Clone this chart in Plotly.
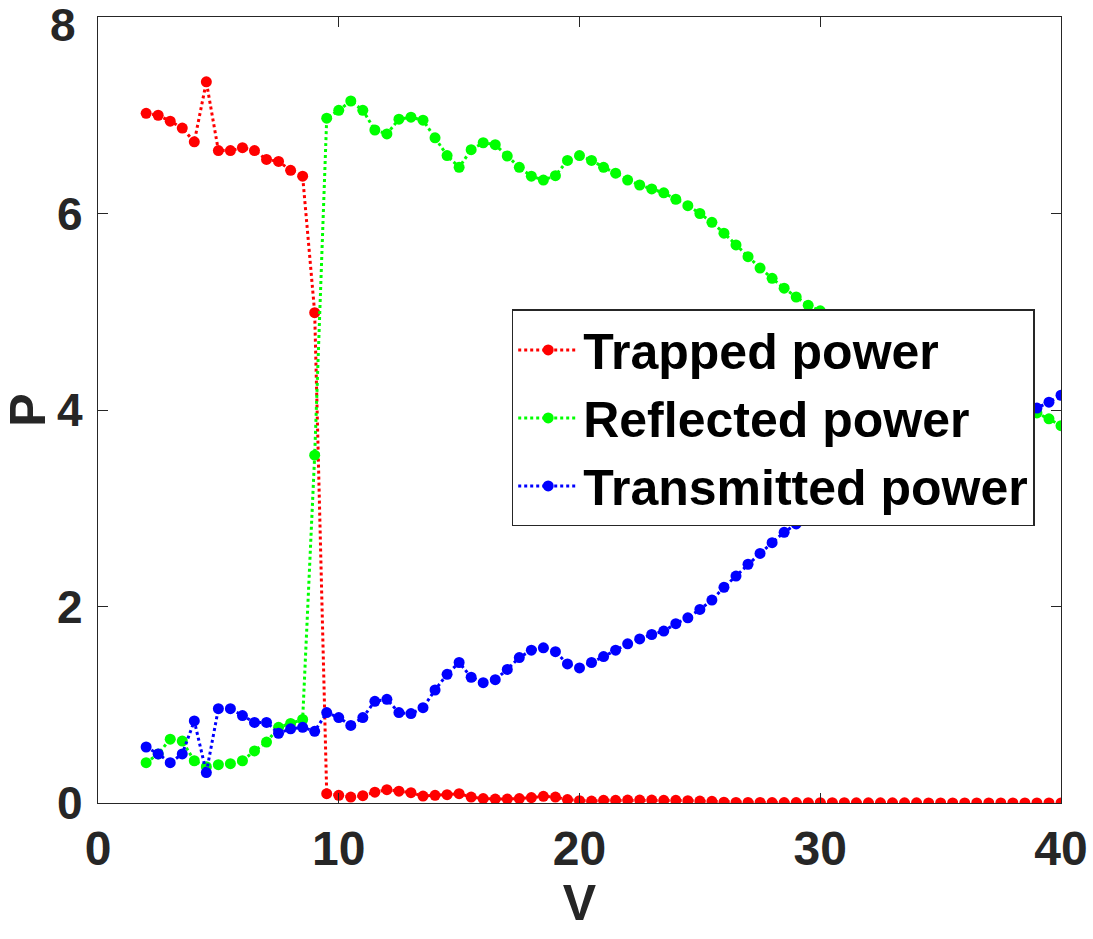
import numpy as np
import plotly.graph_objects as go

V = [round(2 + 0.5 * i, 1) for i in range(77)]

trapped = [
    7.02, 7.00, 6.94, 6.87, 6.73, 7.34, 6.64, 6.64, 6.67, 6.64,
    6.55, 6.53, 6.44, 6.38, 4.99, 0.095, 0.078, 0.06, 0.075, 0.11,
    0.136, 0.12, 0.105, 0.07, 0.078, 0.085, 0.095, 0.06, 0.045, 0.04,
    0.04, 0.045, 0.055, 0.068, 0.06, 0.035, 0.024, 0.02, 0.027, 0.027,
    0.03, 0.03, 0.03, 0.027, 0.027, 0.024, 0.02, 0.017, 0.008, 0.006,
    0.005, 0.005, 0.004, 0.004, 0.004, 0.003, 0.003, 0.003, 0.003, 0.002,
    0.002, 0.002, 0.002, 0.002, 0.002, 0.001, 0.001, 0.001, 0.001, 0.001,
    0.001, 0.001, 0.001, 0.001, 0.001, 0.001, 0.001,
]

reflected = [
    0.41, 0.50, 0.65, 0.63, 0.43, 0.37, 0.39, 0.40, 0.43, 0.53,
    0.62, 0.77, 0.81, 0.85, 3.54, 6.97, 7.05, 7.145, 7.05, 6.85,
    6.81, 6.96, 6.98, 6.95, 6.77, 6.59, 6.47, 6.65, 6.72, 6.70,
    6.585, 6.47, 6.38, 6.34, 6.385, 6.54, 6.59, 6.54, 6.47, 6.41,
    6.34, 6.29, 6.25, 6.21, 6.145, 6.08, 6.00, 5.91, 5.80, 5.68,
    5.56, 5.445, 5.34, 5.24, 5.15, 5.065, 5.01, 4.95, 4.89, 4.83,
    4.77, 4.71, 4.65, 4.59, 4.53, 4.47, 4.41, 4.36, 4.30, 4.25,
    4.19, 4.13, 4.08, 4.02, 3.97, 3.91, 3.84,
]

transmitted = [
    0.57, 0.50, 0.41, 0.50, 0.835, 0.31, 0.96, 0.96, 0.89, 0.82,
    0.82, 0.71, 0.755, 0.77, 0.73, 0.92, 0.87, 0.79, 0.87, 1.035,
    1.055, 0.92, 0.91, 0.97, 1.15, 1.31, 1.43, 1.28, 1.225, 1.255,
    1.36, 1.48, 1.555, 1.58, 1.54, 1.415, 1.375, 1.43, 1.49, 1.555,
    1.62, 1.67, 1.715, 1.75, 1.825, 1.885, 1.97, 2.065, 2.195, 2.31,
    2.43, 2.54, 2.65, 2.755, 2.84, 2.925, 2.99, 3.07, 3.14, 3.21,
    3.28, 3.34, 3.40, 3.46, 3.52, 3.57, 3.62, 3.67, 3.72, 3.77,
    3.82, 3.86, 3.90, 3.95, 4.02, 4.08, 4.15,
]

names = ["Trapped power", "Reflected power", "Transmitted power"]
colors = ["#FF0000", "#00FF00", "#0000FF"]
series = [trapped, reflected, transmitted]

y_tickvals = [0, 2, 4, 6, 8]
y_ticktext = ["0", "2", "4", "6", "8"]

FONT = "Liberation Sans, Arial, Helvetica, sans-serif"
AXC = "#262626"

fig = go.Figure()
for name, col, ys in zip(names, colors, series):
    fig.add_trace(go.Scatter(
        x=V, y=ys, name=name, mode="lines+markers",
        line=dict(color=col, width=3, dash="dot"),
        marker=dict(color=col, size=11, symbol="circle"),
    ))

# the top tick label sits slightly below its tick (kept inside the figure)
shown_text = y_ticktext[:-1] + [""]
fig.add_annotation(
    x=0, xref="paper", y=y_tickvals[-1], yref="y",
    text=y_ticktext[-1], showarrow=False,
    xanchor="right", yanchor="top", xshift=-20, yshift=20,
    font=dict(family=FONT, size=46, color=AXC, weight="bold"),
)

fig.update_layout(
    width=1093, height=939,
    margin=dict(l=98, r=32, t=17, b=136, autoexpand=False),
    paper_bgcolor="white", plot_bgcolor="white",
    showlegend=True,
    legend=dict(
        x=0.4296, y=0.628, xanchor="left", yanchor="top",
        bgcolor="white", bordercolor=AXC, borderwidth=1.5,
        font=dict(family=FONT, size=50, color="black", weight="bold"),
        itemwidth=60, tracegroupgap=0,
    ),
    xaxis=dict(
        range=[0, 40], tickvals=[0, 10, 20, 30, 40],
        ticks="inside", ticklen=10, tickcolor=AXC, tickwidth=1,
        showline=True, linecolor=AXC, linewidth=1.2, mirror="ticks",
        showgrid=False, zeroline=False, automargin=False,
        tickfont=dict(family=FONT, size=48, color=AXC, weight="bold"),
        ticklabelstandoff=3, ticklabeloverflow="allow",
        title=dict(text="V", font=dict(family=FONT, size=50, color=AXC, weight="bold"), standoff=4),
    ),
    yaxis=dict(
        range=[0, 8], tickvals=y_tickvals, ticktext=shown_text,
        ticks="inside", ticklen=10, tickcolor=AXC, tickwidth=1,
        showline=True, linecolor=AXC, linewidth=1.2, mirror="ticks",
        showgrid=False, zeroline=False, automargin=False,
        tickfont=dict(family=FONT, size=46, color=AXC, weight="bold"),
        ticklabelstandoff=5, ticklabeloverflow="allow",
        title=dict(text="P", font=dict(family=FONT, size=50, color=AXC, weight="bold"), standoff=17),
    ),
)

fig.write_html("out.html")
